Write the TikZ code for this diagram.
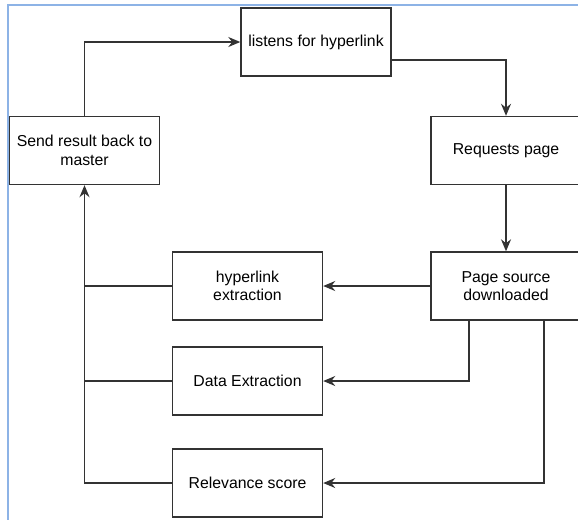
\documentclass[tikz,border=0pt]{standalone}
\usepackage{fontspec}
\setmainfont{Liberation Sans}
\usetikzlibrary{arrows.meta}

\definecolor{framecol}{HTML}{8DB3E6}
\definecolor{linecol}{HTML}{333333}

\begin{document}
\begin{tikzpicture}[every node/.style={draw=linecol,line width=0.8pt,minimum width=3cm,minimum height=1.36cm,align=center,font=\fontsize{9}{10.5}\selectfont},
  flow/.style={draw=linecol,line width=0.8pt,-{Stealth[length=2.4mm,width=2mm]}},
  bus/.style={draw=linecol,line width=0.8pt}]

\useasboundingbox (0,0) rectangle (11.56,-10.38);

\draw[framecol,line width=0.9pt] (0.16,-12) -- (0.16,-0.1) -- (12,-0.1);

\node (listens) at (6.32,-0.84) {listens for hyperlink};

\node (send) at (1.69,-3.01) {Send result back to\\master};

\node (request) at (10.12,-3.01) {Requests page};

\node (page) at (10.12,-5.72) {Page source\\downloaded};

\node (hyper) at (4.95,-5.72) {hyperlink\\extraction};

\node (data) at (4.95,-7.62) {Data Extraction};

\node (score) at (4.95,-9.66) {Relevance score};

\draw[flow] (send.north) |- (listens.west);
\draw[flow] ([yshift=-0.36cm]listens.east) -| (request.north);
\draw[flow] (request) -- (page);
\draw[flow] (page.west) -- (hyper.east);
\draw[flow] ([xshift=-0.74cm]page.south) |- (data.east);
\draw[flow] ([xshift=0.76cm]page.south) |- (score.east);

\draw[flow] (score.west) -| (send.south);
\draw[bus] (data.west) -- (data.west -| send.south);
\draw[bus] (hyper.west) -- (hyper.west -| send.south);

\end{tikzpicture}
\end{document}
